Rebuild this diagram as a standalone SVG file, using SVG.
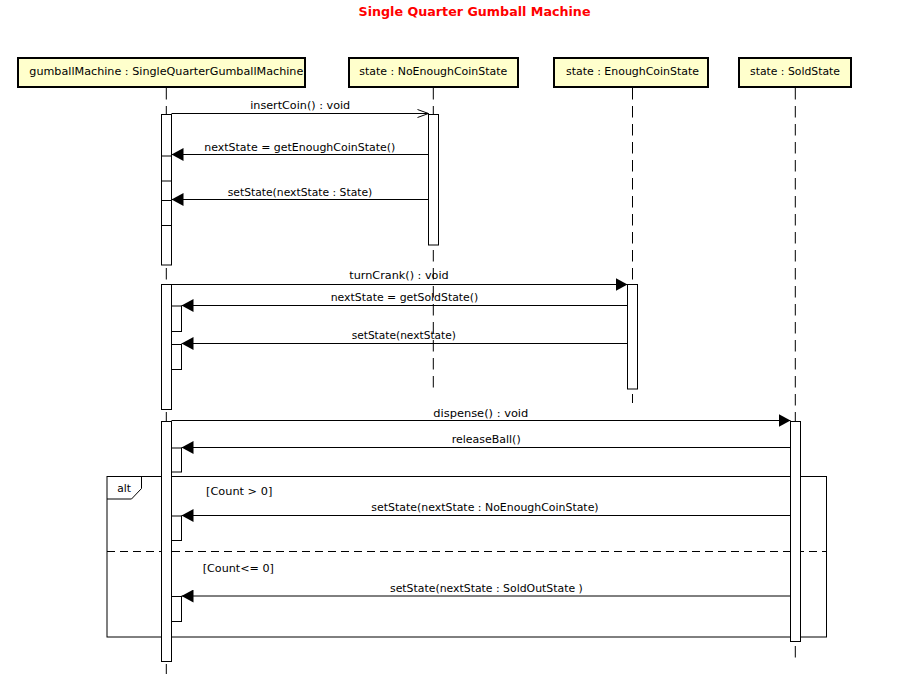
<svg xmlns="http://www.w3.org/2000/svg" width="916" height="674" viewBox="0 0 916 674">
  <style>
    .bg { fill: #ffffff; }
    .title { font-family: "DejaVu Sans", "Liberation Sans", sans-serif; font-size: 13px; font-weight: bold; fill: #ff0000; }
    .node { fill: #ffffcc; stroke: #000000; stroke-width: 2; }
    .lbl { font-family: "DejaVu Sans", "Liberation Sans", sans-serif; font-size: 11px; fill: #000000; }
    .life { stroke: #000000; stroke-width: 1; stroke-dasharray: 11.5 6.5; fill: none; }
    .act { fill: #ffffff; stroke: #000000; stroke-width: 1; }
    .msg { stroke: #000000; stroke-width: 1; fill: none; }
    .frame { fill: none; stroke: #000000; stroke-width: 1; }
    .sep { stroke: #000000; stroke-width: 1; stroke-dasharray: 8 5; fill: none; }
  </style>
  <defs>
    <marker id="filled" markerUnits="userSpaceOnUse" markerWidth="12" markerHeight="13" refX="12" refY="6.5" orient="auto">
      <path d="M0,0 L12,6.5 L0,13 z" fill="#000000"/>
    </marker>
    <marker id="open" markerUnits="userSpaceOnUse" markerWidth="13" markerHeight="10" refX="12" refY="5" orient="auto">
      <path d="M1,1 L12,5 L1,9" fill="none" stroke="#000000" stroke-width="1"/>
    </marker>
  </defs>
  <rect class="bg" x="0" y="0" width="916" height="674"/>
  <text class="title" x="474.5" y="16" text-anchor="middle" textLength="232" lengthAdjust="spacingAndGlyphs">Single Quarter Gumball Machine</text>

  <!-- combined fragment -->
  <g id="alt-fragment">
    <rect class="frame" x="107" y="476.5" width="719.5" height="160.5"/>
    <path class="frame" d="M107,476.5 L141.5,476.5 L141.5,488.5 L131.5,499 L107,499"/>
    <text class="lbl" x="117.3" y="492" textLength="13.7" lengthAdjust="spacingAndGlyphs">alt</text>
    <line class="sep" x1="107" y1="551.5" x2="826.5" y2="551.5"/>
    <text class="lbl" x="206" y="495" textLength="66.3" lengthAdjust="spacingAndGlyphs">[Count &gt; 0]</text>
    <text class="lbl" x="202.7" y="572" textLength="71.3" lengthAdjust="spacingAndGlyphs">[Count&lt;= 0]</text>
  </g>

  <!-- lifelines with activations -->
  <g id="gumballMachine">
    <rect class="node" x="18" y="58" width="287" height="29"/>
    <text class="lbl" x="166.3" y="75" text-anchor="middle" textLength="274" lengthAdjust="spacingAndGlyphs">gumballMachine : SingleQuarterGumballMachine</text>
    <line class="life" x1="166.3" y1="88" x2="166.3" y2="674"/>
    <rect class="act" x="161.5" y="114.5" width="10" height="150.5"/>
    <rect class="act" x="161.5" y="156" width="10" height="25"/>
    <rect class="act" x="161.5" y="200.5" width="10" height="25"/>
    <rect class="act" x="161.5" y="284.5" width="10" height="125"/>
    <rect class="act" x="171.5" y="306" width="10" height="25.5"/>
    <rect class="act" x="171.5" y="344.5" width="10" height="25"/>
    <rect class="act" x="161.5" y="421.5" width="10" height="240"/>
    <rect class="act" x="171.5" y="448" width="10" height="24"/>
    <rect class="act" x="171.5" y="516" width="10" height="24.5"/>
    <rect class="act" x="171.5" y="596.5" width="10" height="25"/>
  </g>
  <g id="noEnoughCoinState">
    <rect class="node" x="349" y="58" width="169" height="29"/>
    <text class="lbl" x="433.3" y="75" text-anchor="middle" textLength="148" lengthAdjust="spacingAndGlyphs">state : NoEnoughCoinState</text>
    <line class="life" x1="433.3" y1="88" x2="433.3" y2="387.5"/>
    <rect class="act" x="428.5" y="114.5" width="10" height="130.5"/>
  </g>
  <g id="enoughCoinState">
    <rect class="node" x="554" y="58" width="154" height="29"/>
    <text class="lbl" x="632.5" y="75" text-anchor="middle" textLength="133" lengthAdjust="spacingAndGlyphs">state : EnoughCoinState</text>
    <line class="life" x1="632.5" y1="88" x2="632.5" y2="403"/>
    <rect class="act" x="627.5" y="284.5" width="10" height="104.5"/>
  </g>
  <g id="soldState">
    <rect class="node" x="739" y="58" width="112" height="29"/>
    <text class="lbl" x="795" y="75" text-anchor="middle" textLength="90" lengthAdjust="spacingAndGlyphs">state : SoldState</text>
    <line class="life" x1="795.3" y1="88" x2="795.3" y2="657.5"/>
    <rect class="act" x="790.5" y="421.5" width="10" height="220"/>
  </g>

  <!-- messages -->
  <g id="connectors">
    <line class="msg" x1="171.5" y1="113.5" x2="428.5" y2="113.5" marker-end="url(#open)"/>
    <text class="lbl" x="300.2" y="109" text-anchor="middle" textLength="100" lengthAdjust="spacingAndGlyphs">insertCoin() : void</text>

    <line class="msg" x1="428.5" y1="154.5" x2="171.5" y2="154.5" marker-end="url(#filled)"/>
    <text class="lbl" x="299.8" y="150.5" text-anchor="middle" textLength="191" lengthAdjust="spacingAndGlyphs">nextState = getEnoughCoinState()</text>

    <line class="msg" x1="428.5" y1="199.5" x2="171.5" y2="199.5" marker-end="url(#filled)"/>
    <text class="lbl" x="300" y="195.5" text-anchor="middle" textLength="144.6" lengthAdjust="spacingAndGlyphs">setState(nextState : State)</text>

    <line class="msg" x1="171.5" y1="284.5" x2="627.5" y2="284.5" marker-end="url(#filled)"/>
    <text class="lbl" x="399" y="279" text-anchor="middle" textLength="99.4" lengthAdjust="spacingAndGlyphs">turnCrank() : void</text>

    <line class="msg" x1="627.5" y1="305.5" x2="181.5" y2="305.5" marker-end="url(#filled)"/>
    <text class="lbl" x="404.5" y="300.5" text-anchor="middle" textLength="147.6" lengthAdjust="spacingAndGlyphs">nextState = getSoldState()</text>

    <line class="msg" x1="627.5" y1="343.5" x2="181.5" y2="343.5" marker-end="url(#filled)"/>
    <text class="lbl" x="403.8" y="339" text-anchor="middle" textLength="104.3" lengthAdjust="spacingAndGlyphs">setState(nextState)</text>

    <line class="msg" x1="171.5" y1="420.5" x2="790.5" y2="420.5" marker-end="url(#filled)"/>
    <text class="lbl" x="480.8" y="416.5" text-anchor="middle" textLength="95" lengthAdjust="spacingAndGlyphs">dispense() : void</text>

    <line class="msg" x1="790.5" y1="447.5" x2="181.5" y2="447.5" marker-end="url(#filled)"/>
    <text class="lbl" x="486.2" y="442.5" text-anchor="middle" textLength="69" lengthAdjust="spacingAndGlyphs">releaseBall()</text>

    <line class="msg" x1="790.5" y1="515.5" x2="181.5" y2="515.5" marker-end="url(#filled)"/>
    <text class="lbl" x="485" y="510.5" text-anchor="middle" textLength="227.3" lengthAdjust="spacingAndGlyphs">setState(nextState : NoEnoughCoinState)</text>

    <line class="msg" x1="790.5" y1="596" x2="181.5" y2="596" marker-end="url(#filled)"/>
    <text class="lbl" x="486.4" y="592" text-anchor="middle" textLength="192.8" lengthAdjust="spacingAndGlyphs">setState(nextState : SoldOutState )</text>
  </g>
</svg>
